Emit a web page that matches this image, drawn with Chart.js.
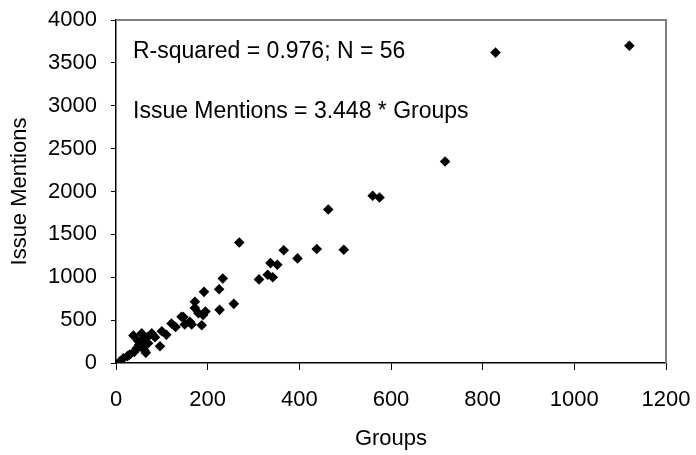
<!DOCTYPE html>
<html>
<head>
<meta charset="utf-8">
<script src="https://cdn.jsdelivr.net/npm/chart.js@4.4.1/dist/chart.umd.min.js"></script>
<style>
  html, body { margin: 0; padding: 0; background: #fff; }
  #wrap { width: 696px; height: 455px; }
</style>
</head>
<body>
<div id="wrap"><canvas id="chart" width="696" height="455"></canvas></div>
<script>
/* ---- data ---- */
const groups = [
  1120, 828, 718, 560, 575, 463, 438, 497, 396, 366,
  337, 352, 331, 342, 312, 269, 233, 225, 192, 172,
  257, 226, 147, 172, 180, 190, 187, 165, 143, 121,
  100, 96, 38, 56, 78, 161, 8, 16, 25, 30,
  40, 45, 50, 55, 60, 62, 65, 70, 48, 58,
  68, 85, 110, 130, 150, 195
];
const mentions = [
  3700, 3620, 2350, 1950, 1930, 1790, 1330, 1320, 1220, 1315,
  1165, 1145, 1030, 1000, 975, 1405, 985, 860, 830, 715,
  690, 620, 535, 640, 580, 560, 440, 450, 540, 460,
  370, 195, 320, 345, 345, 480, 15, 55, 80, 100,
  130, 170, 210, 250, 280, 150, 120, 230, 260, 190,
  300, 300, 330, 420, 450, 600
];
const xTitle = 'Groups';
const yTitle = 'Issue Mentions';
const notes = ['R-squared = 0.976; N = 56', 'Issue Mentions = 3.448 * Groups'];

const points = groups.map((g, i) => ({ x: g, y: mentions[i] }));
const FONT = "'Liberation Sans', Arial, sans-serif";

/* gray plot frame (top + right) and the two text notes */
const framePlugin = {
  id: 'frame',
  afterDraw(chart) {
    const { ctx, chartArea: a } = chart;
    ctx.save();
    ctx.strokeStyle = '#808080';
    ctx.lineWidth = 2;
    ctx.beginPath();
    ctx.moveTo(a.left, a.top);
    ctx.lineTo(a.right, a.top);
    ctx.lineTo(a.right, a.bottom);
    ctx.stroke();
    ctx.fillStyle = '#000';
    ctx.font = '23px ' + FONT;
    ctx.textBaseline = 'alphabetic';
    ctx.fillText(notes[0], a.left + 17, a.top + 38);
    ctx.fillText(notes[1], a.left + 17, a.top + 98);
    ctx.restore();
  }
};

const plain = v => String(v);
// keep the plot box where the layout padding puts it
const noLabelPad = s => { s.paddingTop = 0; s.paddingBottom = 0; s.paddingLeft = 0; s.paddingRight = 0; };

const ctx = document.getElementById('chart').getContext('2d');
new Chart(ctx, {
  type: 'scatter',
  data: {
    datasets: [{
      data: points,
      pointStyle: 'rectRot',
      pointRadius: 5.3,
      pointHoverRadius: 5.3,
      backgroundColor: '#000',
      borderColor: '#000',
      borderWidth: 0
    }]
  },
  options: {
    responsive: false,
    animation: false,
    devicePixelRatio: 1,
    layout: { padding: { top: 20, right: 30, left: 0, bottom: 0 } },
    plugins: { legend: { display: false }, tooltip: { enabled: false } },
    scales: {
      x: {
        type: 'linear',
        min: 0, max: 1200,
        afterFit(s) { s.height = 92; noLabelPad(s); },
        ticks: { stepSize: 200, color: '#000', padding: 17, callback: plain, font: { family: FONT, size: 22 } },
        grid: { drawOnChartArea: false, drawTicks: true, tickLength: 7, color: '#000' },
        border: { color: '#000', width: 1.5 },
        title: { display: true, text: xTitle, color: '#000', font: { family: FONT, size: 22 }, padding: { top: 0, bottom: 3 } }
      },
      y: {
        type: 'linear',
        min: 0, max: 4000,
        afterFit(s) { s.width = 116; noLabelPad(s); },
        ticks: { stepSize: 500, color: '#000', padding: 14, callback: plain, font: { family: FONT, size: 22 } },
        grid: { drawOnChartArea: false, drawTicks: true, tickLength: 5, color: '#000' },
        border: { color: '#000', width: 1.5 },
        title: { display: true, text: yTitle, color: '#000', font: { family: FONT, size: 22 }, padding: { top: 7, bottom: 0 } }
      }
    }
  },
  plugins: [framePlugin]
});
</script>
</body>
</html>
